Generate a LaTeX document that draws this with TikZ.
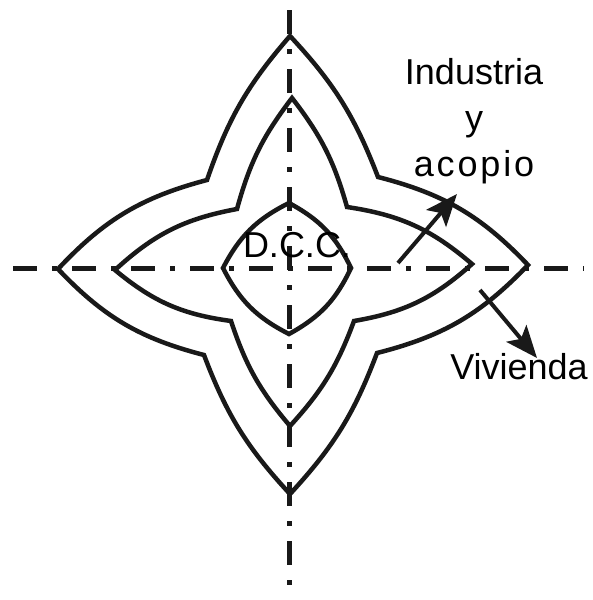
\documentclass[tikz,border=0pt]{standalone}
\usepackage{fontspec}
\setmainfont{Liberation Sans}
\usetikzlibrary{arrows.meta}

\begin{document}
\begin{tikzpicture}[
        x=1pt, y=-1pt,
        eje/.style={line width=5pt, dash pattern=on 24pt off 15pt on 5pt off 15pt, color=black!90},
        borde/.style={line width=4.5pt, color=black!90, line join=miter},
        etiqueta/.style={inner sep=0pt, align=center, font=\fontsize{36}{46}\selectfont},
        flecha/.style={-{Stealth[length=32pt, width=26pt, inset=7pt]}, line width=4pt, color=black!90}
    ]
        \useasboundingbox (0,0) rectangle (592,600);

        % ejes
        \coordinate (ejeN) at (289,10);
        \coordinate (ejeS) at (289,600);
        \coordinate (ejeO) at (13,268);
        \coordinate (ejeE) at (584,268);
        \draw[eje] (ejeN) -- (ejeS);
        \draw[eje] (ejeO) -- (ejeE);

        % estrella exterior
        \coordinate (eT) at (290,36);
        \coordinate (eUR) at (378,177);
        \coordinate (eR) at (528,265);
        \coordinate (eLR) at (377,353);
        \coordinate (eB) at (290,494);
        \coordinate (eLL) at (204,355);
        \coordinate (eL) at (58,269);
        \coordinate (eUL) at (207,180);
        \draw[borde] (eT) to[bend left=11] (eUR) to[bend left=16] (eR)
            to[bend left=16] (eLR) to[bend left=11] (eB)
            to[bend left=11] (eLL) to[bend left=16] (eL)
            to[bend left=16] (eUL) to[bend left=11] (eT) -- cycle;

        % estrella media
        \coordinate (mT) at (292,98);
        \coordinate (mUR) at (347,207);
        \coordinate (mR) at (472,264);
        \coordinate (mLR) at (354,321);
        \coordinate (mB) at (290,426);
        \coordinate (mLL) at (231,321);
        \coordinate (mL) at (115,270);
        \coordinate (mUL) at (237,209);
        \draw[borde] (mT) to[bend left=11] (mUR) to[bend left=16] (mR)
            to[bend left=16] (mLR) to[bend left=11] (mB)
            to[bend left=11] (mLL) to[bend left=16] (mL)
            to[bend left=16] (mUL) to[bend left=11] (mT) -- cycle;

        % rombo central
        \coordinate (cT) at (289,203);
        \coordinate (cR) at (351,268);
        \coordinate (cB) at (289,334);
        \coordinate (cL) at (223,268);
        \draw[borde] (cT) to[bend left=18] (cR) to[bend left=18] (cB)
            to[bend left=18] (cL) to[bend left=18] (cT) -- cycle;

        % textos
        \node[etiqueta, anchor=base] (dcc) at (297,257) {D.C.C.};
        \node[etiqueta, anchor=north] (industria) at (474,58) {Industria\\y\\{\addfontfeature{LetterSpace=8}acopio}};
        \node[etiqueta, anchor=base] (vivienda) at (519,379) {Vivienda};

        % flechas
        \coordinate (fI) at (398,263);
        \coordinate (fIp) at (457,194);
        \coordinate (fV) at (480,290);
        \coordinate (fVp) at (537,358);
        \draw[flecha] (fI) -- (fIp);
        \draw[flecha] (fV) -- (fVp);
    \end{tikzpicture}
\end{document}
